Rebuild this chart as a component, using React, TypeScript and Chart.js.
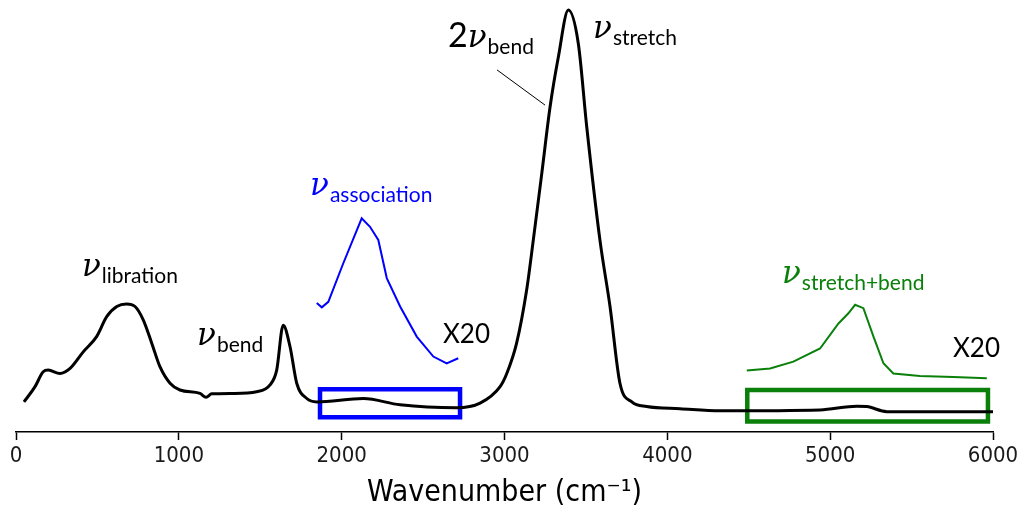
import React, { useEffect, useRef } from 'react';
import { Chart, registerables } from 'chart.js';

Chart.register(...registerables);

// Main absorbance spectrum (wavenumber, relative absorbance)
const spectrumX = [49, 117, 167, 198, 270, 332, 413, 495, 557, 619, 679, 731, 782, 834, 884, 946, 1007, 1130, 1167, 1202, 1335, 1478, 1560, 1601, 1641, 1683, 1724, 1786, 1847, 2133, 2359, 2706, 2850, 2973, 3014, 3074, 3136, 3177, 3229, 3280, 3331, 3392, 3453, 3505, 3586, 3648, 3709, 3782, 3873, 4078, 4324, 4938, 5163, 5225, 5348, 6000];
const spectrumY = [0.071, 0.107, 0.142, 0.146, 0.138, 0.150, 0.189, 0.225, 0.272, 0.296, 0.302, 0.296, 0.264, 0.209, 0.154, 0.115, 0.099, 0.091, 0.082, 0.090, 0.091, 0.095, 0.111, 0.146, 0.252, 0.201, 0.115, 0.079, 0.071, 0.079, 0.064, 0.057, 0.068, 0.107, 0.138, 0.209, 0.335, 0.453, 0.610, 0.767, 0.885, 0.995, 0.917, 0.720, 0.453, 0.296, 0.115, 0.071, 0.060, 0.055, 0.050, 0.052, 0.061, 0.060, 0.048, 0.048];

// Association band, magnified x20
const assocX = [1847, 1878, 1918, 2010, 2123, 2174, 2225, 2277, 2359, 2461, 2563, 2645, 2716];
const assocY = [0.304, 0.294, 0.307, 0.398, 0.504, 0.484, 0.453, 0.363, 0.296, 0.225, 0.178, 0.162, 0.174];

// Stretch+bend combination band, magnified x20
const combX = [4488, 4631, 4774, 4938, 5051, 5112, 5153, 5204, 5266, 5327, 5388, 5551, 5757, 5962];
const combY = [0.145, 0.150, 0.166, 0.197, 0.256, 0.280, 0.300, 0.292, 0.225, 0.162, 0.138, 0.132, 0.130, 0.127];

// Highlight boxes [min, max]
const blueBoxX = [1867, 2727];
const blueBoxY = [0.035, 0.101];
const greenBoxX = [4491, 5969];
const greenBoxY = [0.025, 0.099];

// Leader line for 2ν_bend
const leaderX = [2954, 3249];
const leaderY = [0.854, 0.771];

const xTicks = [0, 1000, 2000, 3000, 4000, 5000, 6000];
const xTitle = 'Wavenumber (cm⁻¹)';

const BLACK = '#000000';
const BLUE = '#0000ff';
const GREEN = '#0a800a';

// Band labels: prefix, ν, subscript, anchored in data coordinates
const bandPrefix = ['', '', '', '', '2', ''];
const bandSub = ['libration', 'bend', 'association', 'stretch+bend', 'bend', 'stretch'];
const bandX = [405, 1112, 1806, 4704, 2653, 3544];
const bandY = [0.368, 0.205, 0.559, 0.351, 0.908, 0.929];
const bandColor = [BLACK, BLACK, BLUE, GREEN, BLACK, BLACK];

const scaleText = ['X20', 'X20'];
const scaleTextX = [2622, 5754];
const scaleTextY = [0.210, 0.177];

function pts(xs: number[], ys: number[]) {
  return xs.map((x, i) => ({ x, y: ys[i] }));
}
function box(bx: number[], by: number[]) {
  return [
    { x: bx[0], y: by[0] },
    { x: bx[1], y: by[0] },
    { x: bx[1], y: by[1] },
    { x: bx[0], y: by[1] },
    { x: bx[0], y: by[0] },
    { x: bx[1], y: by[0] },
  ];
}

const labelPlugin = {
  id: 'bandLabels',
  afterDatasetsDraw(chart: any) {
    const ctx = chart.ctx;
    const xs = chart.scales.x;
    const ys = chart.scales.y;
    ctx.save();
    ctx.textBaseline = 'alphabetic';
    ctx.textAlign = 'left';
    for (let i = 0; i < bandSub.length; i++) {
      let px = xs.getPixelForValue(bandX[i]);
      const py = ys.getPixelForValue(bandY[i]);
      ctx.fillStyle = bandColor[i];
      if (bandPrefix[i]) {
        ctx.font = '34px Lato';
        ctx.fillText(bandPrefix[i], px, py);
        px += ctx.measureText(bandPrefix[i]).width;
      }
      ctx.font = 'italic 31px "DejaVu Serif"';
      ctx.fillText('ν', px, py);
      px += ctx.measureText('ν').width + 1;
      ctx.font = '21px Lato';
      ctx.fillText(bandSub[i], px, py + 7);
    }
    ctx.fillStyle = BLACK;
    ctx.font = '26px Lato';
    for (let i = 0; i < scaleText.length; i++) {
      ctx.fillText(scaleText[i], xs.getPixelForValue(scaleTextX[i]), ys.getPixelForValue(scaleTextY[i]));
    }
    ctx.restore();
  },
};

export default function App() {
  const ref = useRef<HTMLCanvasElement | null>(null);
  useEffect(() => {
    if (!ref.current) return;
    const chart = new Chart(ref.current, {
      type: 'line',
      data: {
        datasets: [
          {
            data: pts(spectrumX, spectrumY),
            borderColor: BLACK,
            borderWidth: 3,
            pointRadius: 0,
            cubicInterpolationMode: 'monotone',
            clip: false,
          },
          {
            data: pts(assocX, assocY),
            borderColor: BLUE,
            borderWidth: 2,
            pointRadius: 0,
            tension: 0,
          },
          {
            data: pts(combX, combY),
            borderColor: GREEN,
            borderWidth: 2,
            pointRadius: 0,
            tension: 0,
          },
          {
            data: box(blueBoxX, blueBoxY),
            borderColor: BLUE,
            borderWidth: 4.5,
            pointRadius: 0,
            tension: 0,
            borderJoinStyle: 'miter',
          },
          {
            data: box(greenBoxX, greenBoxY),
            borderColor: GREEN,
            borderWidth: 4.5,
            pointRadius: 0,
            tension: 0,
            borderJoinStyle: 'miter',
          },
          {
            data: pts(leaderX, leaderY),
            borderColor: BLACK,
            borderWidth: 1,
            pointRadius: 0,
            tension: 0,
          },
        ] as any,
      },
      options: {
        animation: false,
        responsive: true,
        maintainAspectRatio: false,
        layout: { padding: { left: 8, right: 26, top: 0, bottom: 0 } },
        plugins: {
          legend: { display: false },
          tooltip: { enabled: false },
        },
        scales: {
          x: {
            type: 'linear',
            min: 0,
            max: 6000,
            afterBuildTicks: (s: any) => {
              s.ticks = xTicks.map((v) => ({ value: v }));
            },
            afterFit: (s: any) => {
              s.paddingLeft = 0;
              s.paddingRight = 0;
              s.height = 74;
            },
            border: { display: true, color: BLACK, width: 1.5 },
            grid: { drawOnChartArea: false, drawTicks: true, tickLength: 8, tickColor: BLACK, tickWidth: 1.5 },
            ticks: {
              color: '#1a1a1a',
              padding: 3,
              font: { family: '"DejaVu Sans Condensed"', size: 22 },
              maxRotation: 0,
              callback: (v: any) => String(v),
            },
            title: {
              display: true,
              text: xTitle,
              color: BLACK,
              padding: { top: 0, bottom: -5 },
              font: { family: '"DejaVu Sans Condensed"', size: 30 },
            },
          },
          y: {
            display: false,
            min: 0,
            max: 1,
          },
        },
      } as any,
      plugins: [labelPlugin],
    });
    return () => chart.destroy();
  }, []);
  return (
    <div style={{ position: 'relative', width: '100%', height: '498px' }}>
      <canvas ref={ref} />
    </div>
  );
}
